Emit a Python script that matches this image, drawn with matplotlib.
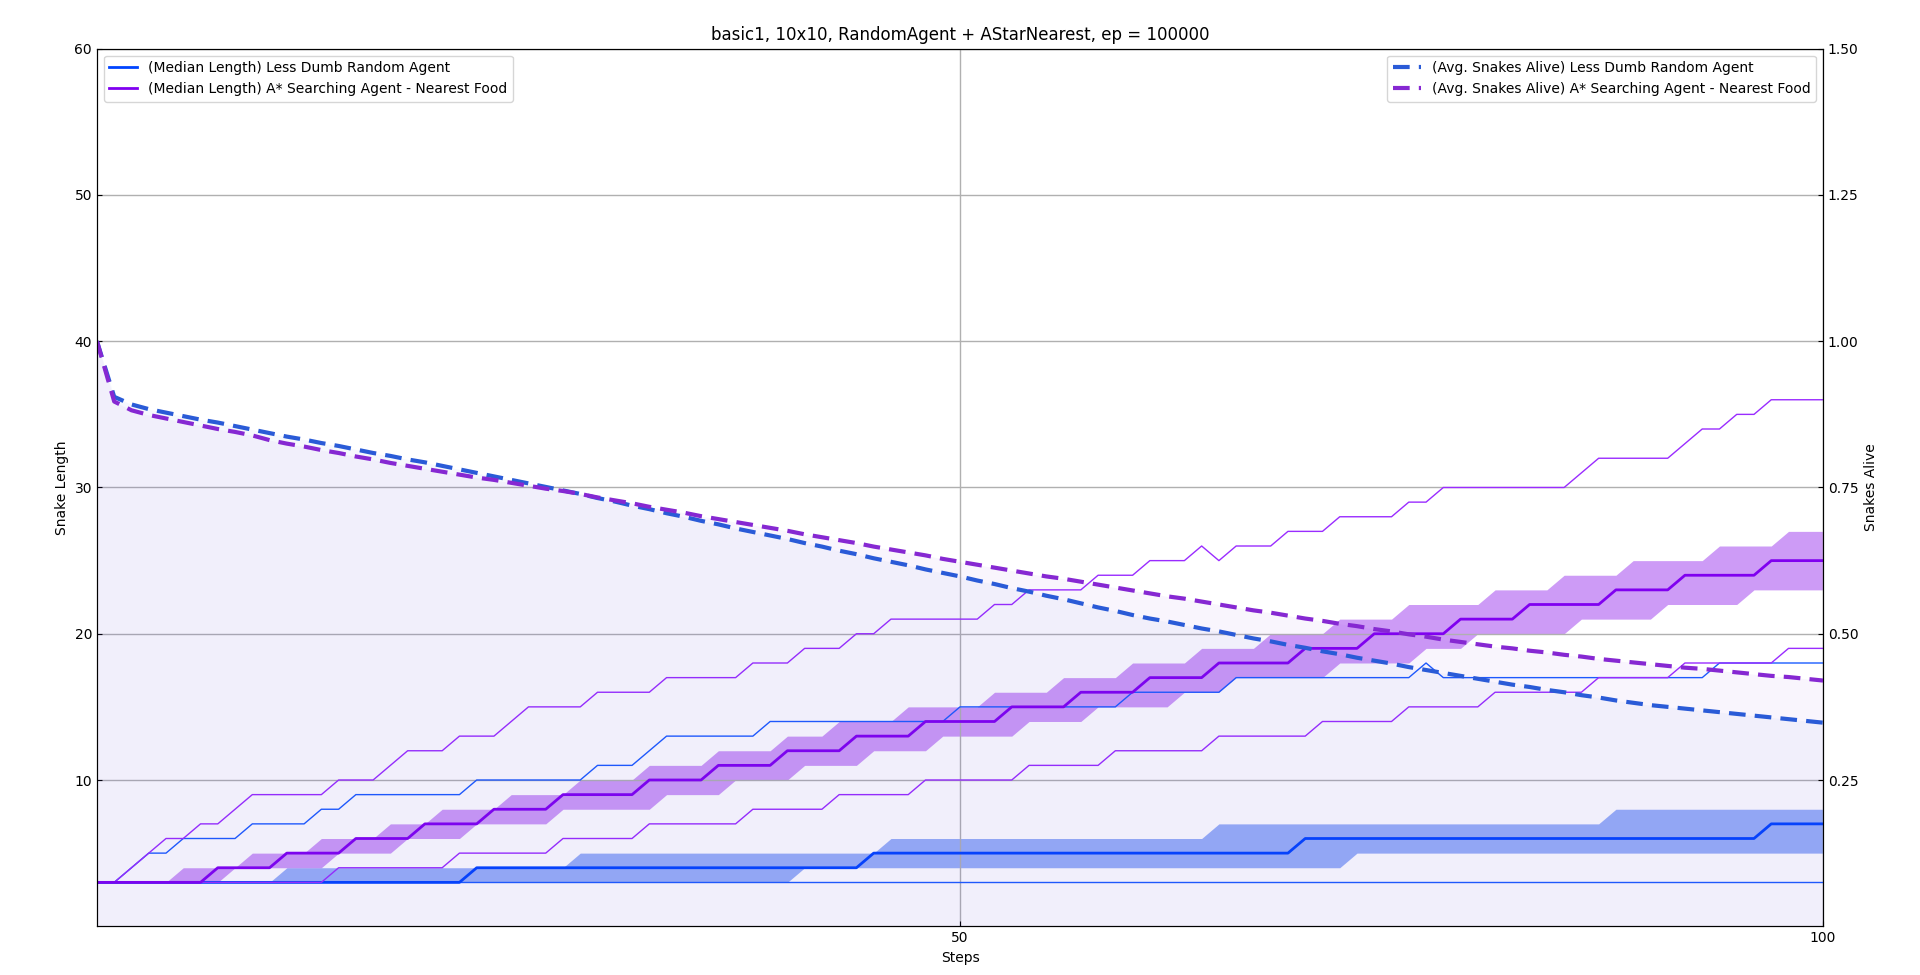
import numpy as np
import matplotlib
matplotlib.use("Agg")
import matplotlib.pyplot as plt

steps = list(range(101))

# A* agent (purple)
a_hi = [3,3,4,5,6,6,7,7,8,9,
        9,9,9,9,10,10,10,11,12,12,
        12,13,13,13,14,15,15,15,15,16,
        16,16,16,17,17,17,17,17,18,18,
        18,19,19,19,20,20,21,21,21,21,
        21,21,22,22,23,23,23,23,24,24,
        24,25,25,25,26,25,26,26,26,27,
        27,27,28,28,28,28,29,29,30,30,
        30,30,30,30,30,30,31,32,32,32,
        32,32,33,34,34,35,35,36,36,36,
        36]
a_lo = [3,3,3,3,3,3,3,3,3,3,
        3,3,3,3,4,4,4,4,4,4,
        4,5,5,5,5,5,5,6,6,6,
        6,6,7,7,7,7,7,7,8,8,
        8,8,8,9,9,9,9,9,10,10,
        10,10,10,10,11,11,11,11,11,12,
        12,12,12,12,12,13,13,13,13,13,
        13,14,14,14,14,14,15,15,15,15,
        15,16,16,16,16,16,16,17,17,17,
        17,17,18,18,18,18,18,18,19,19,
        19]
a_med = [3,3,3,3,3,3,3,4,4,4,
         4,5,5,5,5,6,6,6,6,7,
         7,7,7,8,8,8,8,9,9,9,
         9,9,10,10,10,10,11,11,11,11,
         12,12,12,12,13,13,13,13,14,14,
         14,14,14,15,15,15,15,16,16,16,
         16,17,17,17,17,18,18,18,18,18,
         19,19,19,19,20,20,20,20,20,21,
         21,21,21,22,22,22,22,22,23,23,
         23,23,24,24,24,24,24,25,25,25,
         25]
a_q3 = [3,3,3,3,3,4,4,4,4,5,
        5,5,5,6,6,6,6,7,7,7,
        8,8,8,8,9,9,9,9,10,10,
        10,10,11,11,11,11,12,12,12,12,
        13,13,13,14,14,14,14,15,15,15,
        15,15,16,16,16,16,17,17,17,17,
        18,18,18,18,19,19,19,19,20,20,
        20,20,21,21,21,21,22,22,22,22,
        22,23,23,23,23,24,24,24,24,25,
        25,25,25,25,26,26,26,26,27,27,
        27]
a_q1 = [3,3,3,3,3,3,3,3,4,4,
        4,4,4,4,5,5,5,5,6,6,
        6,6,7,7,7,7,7,8,8,8,
        8,8,8,9,9,9,9,10,10,10,
        10,11,11,11,11,12,12,12,12,13,
        13,13,13,13,14,14,14,14,15,15,
        15,15,15,16,16,16,17,17,17,17,
        17,17,18,18,18,18,18,19,19,19,
        20,20,20,20,20,20,21,21,21,21,
        21,22,22,22,22,22,23,23,23,23,
        23]

# Random agent (blue)
r_hi = [3,3,4,5,5,6,6,6,6,7,
        7,7,7,8,8,9,9,9,9,9,
        9,9,10,10,10,10,10,10,10,11,
        11,11,12,13,13,13,13,13,13,14,
        14,14,14,14,14,14,14,14,14,14,
        15,15,15,15,15,15,15,15,15,15,
        16,16,16,16,16,16,17,17,17,17,
        17,17,17,17,17,17,17,18,17,17,
        17,17,17,17,17,17,17,17,17,17,
        17,17,17,17,18,18,18,18,18,18,
        18]
r_med = [3]*22 + [4]*23 + [5]*25 + [6]*27 + [7]*4
r_q3 = [3]*11 + [4]*17 + [5]*18 + [6]*19 + [7]*23 + [8]*13
r_q1 = [3]*41 + [4]*32 + [5]*28
r_lo = [3]*101

# Avg. snakes alive
r_alive = [1.000,0.905,0.892,0.884,0.878,0.872,0.866,0.861,0.855,0.849,
           0.843,0.837,0.832,0.826,0.821,0.815,0.809,0.804,0.798,0.793,
           0.787,0.781,0.775,0.769,0.763,0.757,0.751,0.745,0.739,0.732,
           0.726,0.719,0.713,0.706,0.700,0.693,0.687,0.680,0.674,0.668,
           0.662,0.655,0.649,0.642,0.636,0.629,0.623,0.617,0.610,0.604,
           0.598,0.591,0.585,0.578,0.572,0.565,0.559,0.552,0.545,0.539,
           0.532,0.526,0.521,0.515,0.509,0.504,0.498,0.492,0.487,0.481,
           0.476,0.470,0.465,0.459,0.454,0.449,0.443,0.438,0.433,0.428,
           0.423,0.418,0.413,0.409,0.404,0.400,0.395,0.391,0.386,0.382,
           0.378,0.375,0.372,0.369,0.366,0.363,0.360,0.357,0.354,0.351,
           0.348]
a_alive = [1.000,0.897,0.882,0.874,0.868,0.862,0.856,0.850,0.845,0.839,
           0.831,0.825,0.820,0.814,0.809,0.803,0.798,0.792,0.787,0.782,
           0.777,0.772,0.767,0.763,0.758,0.753,0.748,0.744,0.739,0.733,
           0.728,0.723,0.717,0.712,0.707,0.701,0.696,0.691,0.686,0.681,
           0.676,0.670,0.665,0.660,0.655,0.649,0.644,0.639,0.634,0.628,
           0.623,0.618,0.613,0.608,0.603,0.598,0.594,0.589,0.584,0.579,
           0.574,0.569,0.564,0.560,0.555,0.550,0.545,0.540,0.536,0.531,
           0.526,0.522,0.517,0.513,0.508,0.504,0.499,0.495,0.490,0.486,
           0.482,0.478,0.475,0.471,0.468,0.464,0.461,0.457,0.454,0.451,
           0.448,0.445,0.442,0.440,0.437,0.434,0.431,0.428,0.426,0.423,
           0.420]

labels = ["Less Dumb Random Agent", "A* Searching Agent - Nearest Food"]

fig = plt.figure(figsize=(19.2, 9.75), dpi=100)
ax = fig.add_axes([0.0505, 0.05, 0.899, 0.9])
ax2 = ax.twinx()

x = np.array(steps)
blue_med, blue_band, blue_thin = "#0044ff", "#6d8ff5", "#1a5cff"
pur_med, pur_band, pur_thin = "#8000f0", "#b266f2", "#9a2cff"

ax.fill_between(x, r_q1, r_q3, color=blue_band, alpha=0.7, lw=0)
ax.plot(x, r_hi, color=blue_thin, lw=1)
ax.plot(x, r_lo, color=blue_thin, lw=1)
l1, = ax.plot(x, r_med, color=blue_med, lw=2, label="(Median Length) " + labels[0])

ax.fill_between(x, a_q1, a_q3, color=pur_band, alpha=0.65, lw=0)
ax.plot(x, a_hi, color=pur_thin, lw=1)
ax.plot(x, a_lo, color=pur_thin, lw=1)
l2, = ax.plot(x, a_med, color=pur_med, lw=2, label="(Median Length) " + labels[1])

ax.set_xlim(0, 100)
ax.set_ylim(0, 60)
ax.set_xticks([50, 100])
ax.set_yticks([10, 20, 30, 40, 50, 60])
ax.grid(True, color="#b0b0b0", lw=1)
ax.set_xlabel("Steps")
ax.set_ylabel("Snake Length")
ax.tick_params(direction="in", labelsize=10)
ax.set_title("basic1, 10x10, RandomAgent + AStarNearest, ep = 100000", fontsize=12)

d_blue, d_pur = "#2a5bd7", "#8a2be2"
ax2.fill_between(x, 0, r_alive, color=d_blue, alpha=0.04, lw=0)
ax2.fill_between(x, 0, a_alive, color=d_pur, alpha=0.045, lw=0)
l3, = ax2.plot(x, r_alive, color=d_blue, lw=3, ls=(0, (4, 2.2)), label="(Avg. Snakes Alive) " + labels[0])
l4, = ax2.plot(x, a_alive, color="#8628d2", lw=3, ls=(0, (4, 2.2)), label="(Avg. Snakes Alive) " + labels[1])
ax2.set_ylim(0, 1.5)
ax2.set_yticks([0.25, 0.5, 0.75, 1.0, 1.25, 1.5])
ax2.set_yticklabels(["0.25", "0.50", "0.75", "1.00", "1.25", "1.50"])
ax2.set_ylabel("Snakes Alive")
ax2.tick_params(direction="in", labelsize=10)

ax.legend(handles=[l1, l2], loc="upper left", fontsize=10)
ax2.legend(handles=[l3, l4], loc="upper right", fontsize=10)

fig.savefig("out.png", dpi=100)
